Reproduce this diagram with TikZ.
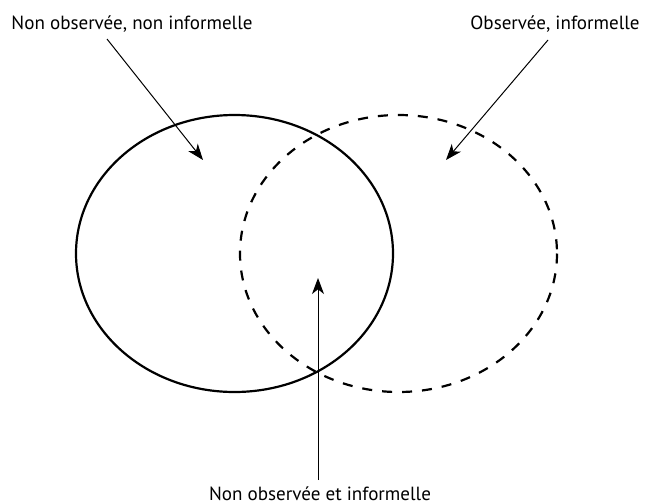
\documentclass[tikz,border=0pt]{standalone}
\usepackage{fontspec}
\setmainfont{PT Sans}
\usetikzlibrary{arrows.meta}
\begin{document}
\begin{tikzpicture}[x=0.75pt,y=-0.75pt,
  settxt/.style={font=\fontsize{14.3}{16}\selectfont, inner sep=0pt, anchor=base},
  circ/.style={line width=1.65pt},
  dcirc/.style={line width=1.65pt, dash pattern=on 7.5pt off 7.5pt},
  arr/.style={line width=0.75pt, -{Stealth[length=12pt,width=9pt,inset=3.5pt]}}]
\useasboundingbox (0,0) rectangle (647,504);
\draw[circ] (234.5,253.5) ellipse [x radius=158.5, y radius=138.5];
\draw[dcirc] (398.5,253.5) ellipse [x radius=158.5, y radius=138.5];
\node[settxt] (l1) at (132,29) {Non observée, non informelle};
\node[settxt] (l2) at (555,29) {Observée, informelle};
\node[settxt] (l3) at (320,500) {Non observée et informelle};
\coordinate (s1) at (107,39);
\coordinate (t1) at (203,160);
\coordinate (s2) at (548,40);
\coordinate (t2) at (446,160);
\coordinate (s3) at (318,480);
\coordinate (t3) at (318,278);
\draw[arr] (s1) -- (t1);
\draw[arr] (s2) -- (t2);
\draw[arr] (s3) -- (t3);
\end{tikzpicture}
\end{document}
